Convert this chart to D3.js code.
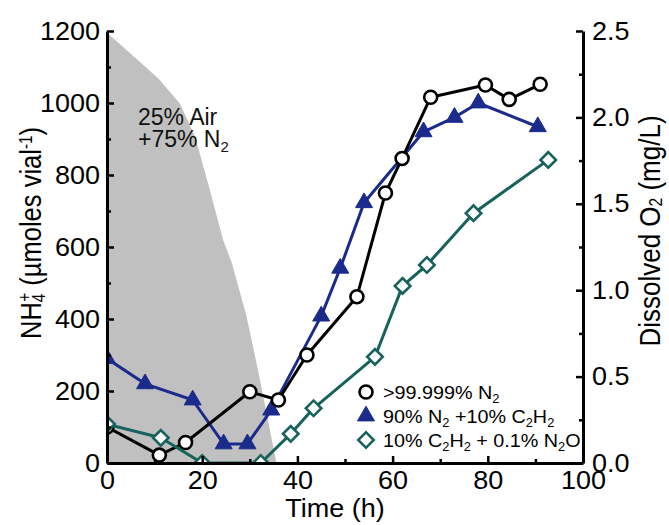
<!DOCTYPE html>
<html>
<head>
<meta charset="utf-8">
<script src="https://cdn.jsdelivr.net/npm/d3@7/dist/d3.min.js"></script>
<style>
  html, body { margin: 0; padding: 0; background: #fff; }
  svg { display: block; font-family: "Liberation Sans", Arial, sans-serif; }
</style>
</head>
<body>
<script>
// Time axis (h) and NH4+ readings for the three gas treatments
const pureN2Time   = [0, 11, 16.5, 30, 36, 42, 52.5, 58.5, 62, 68, 79.5, 84.5, 91];
const pureN2Nh4    = [100, 22, 57, 198, 175, 300, 462, 750, 846, 1016, 1050, 1010, 1052];

const acetyleneTime = [0, 8, 18, 24.5, 29.5, 34.5, 45, 49, 54, 66.5, 73, 78, 90.5];
const acetyleneNh4  = [290, 220, 175, 53, 53, 147, 408, 541, 723, 920, 960, 1000, 934];

const nitrousTime  = [0, 11.3, 20, 32.3, 38.6, 43.4, 56.3, 62.1, 67.2, 77, 92.7];
const nitrousNh4   = [108, 70, 0, 0, 81, 152, 295, 492, 550, 694, 842];

// Dissolved O2 (mg/L) in the 25% air + 75% N2 headspace
const o2Time  = [0, 6.6, 11, 15.3, 18.5, 21.6, 24.4, 26.2, 29.3, 31.7, 35.6];
const o2Value = [2.49, 2.33, 2.22, 2.08, 1.89, 1.58, 1.29, 1.16, 0.85, 0.54, 0];

// Tick values
const timeTicks      = [0, 20, 40, 60, 80, 100];
const timeMinorTicks = [10, 30, 50, 70, 90];
const nh4Ticks       = [0, 200, 400, 600, 800, 1000, 1200];
const nh4MinorTicks  = [100, 300, 500, 700, 900, 1100];
const o2Ticks        = [0, 0.5, 1.0, 1.5, 2.0, 2.5];
const o2MinorTicks   = [0.25, 0.75, 1.25, 1.75, 2.25];

const W = 669, H = 525;
const plotLeft = 107, plotRight = 583, plotTop = 31, plotBottom = 463;
const stretch = 1.08;   // slightly wide lettering

const svg = d3.select("body").append("svg").attr("width", W).attr("height", H);

const x  = d3.scaleLinear().domain([0, 100]).range([plotLeft, plotRight]);
const y  = d3.scaleLinear().domain([0, 1200]).range([plotBottom, plotTop]);
const y2 = d3.scaleLinear().domain([0, 2.5]).range([plotBottom, plotTop]);

svg.append("defs").append("clipPath").attr("id", "plotClip")
  .append("rect").attr("x", plotLeft).attr("y", plotTop)
  .attr("width", plotRight - plotLeft).attr("height", plotBottom - plotTop);

const plot = svg.append("g").attr("clip-path", "url(#plotClip)");

// Shaded oxygen profile
const o2Pts = o2Time.map((t, i) => [t, o2Value[i]]);
plot.append("path")
  .datum(o2Pts)
  .attr("fill", "#c0c0c0")
  .attr("stroke", "none")
  .attr("d", d3.area().x(d => x(d[0])).y0(y2(0)).y1(d => y2(d[1])));

// Text with sub/superscript runs
function richText(g, parts, attrs) {
  const t = g.append("text");
  Object.entries(attrs).forEach(([k, v]) => t.attr(k, v));
  parts.forEach(p => {
    const s = t.append("tspan").text(p.text);
    if (p.sub) s.attr("baseline-shift", p.shift || "-30%").attr("font-size", p.size || "65%");
    if (p.sup) s.attr("baseline-shift", p.shift || "45%").attr("font-size", p.size || "65%");
    if (p.dx) s.attr("dx", p.dx);
  });
  return t;
}

const annot = svg.append("g").attr("font-size", 23).attr("fill", "#111");
annot.append("text").attr("x", 138).attr("y", 125).text("25% Air");
richText(annot, [{text: "+75% N"}, {text: "2", sub: true}], {x: 138, y: 147});

// Series
const navy = "#1b2b8c", teal = "#17625c";
const line = d3.line().x(d => x(d[0])).y(d => y(d[1]));

function series(times, vals, color, marker) {
  const pts = times.map((t, i) => [t, vals[i]]);
  plot.append("path").datum(pts)
    .attr("fill", "none").attr("stroke", color)
    .attr("stroke-width", 3).attr("stroke-linejoin", "round")
    .attr("d", line);
  const g = plot.append("g");
  pts.forEach(p => marker(g, x(p[0]), y(p[1])));
}

function circleMark(g, cx, cy) {
  g.append("circle").attr("cx", cx).attr("cy", cy).attr("r", 6.5)
    .attr("fill", "#fff").attr("stroke", "#000").attr("stroke-width", 2.6);
}
function triMark(g, cx, cy) {
  g.append("path").attr("transform", `translate(${cx},${cy})`)
    .attr("d", d3.symbol(d3.symbolTriangle, 125)())
    .attr("fill", navy).attr("stroke", navy).attr("stroke-width", 1);
}
function diaMark(g, cx, cy) {
  g.append("path").attr("transform", `translate(${cx},${cy}) rotate(45)`)
    .attr("d", d3.symbol(d3.symbolSquare, 120)())
    .attr("fill", "#fff").attr("stroke", teal).attr("stroke-width", 2.6);
}

series(acetyleneTime, acetyleneNh4, navy, triMark);
series(pureN2Time, pureN2Nh4, "#000", circleMark);
series(nitrousTime, nitrousNh4, teal, diaMark);

// Axes
const tickFont = 25;
function styleAxis(g) {
  g.select(".domain").attr("stroke", "#000").attr("stroke-width", 3);
  g.selectAll(".tick line").attr("stroke", "#000").attr("stroke-width", 2.5);
  g.selectAll(".tick text").attr("font-size", tickFont).attr("fill", "#000")
    .attr("font-family", "Liberation Sans, Arial, sans-serif")
    .each(function () {
      const t = d3.select(this);
      const tx = +t.attr("x") || 0;
      t.attr("x", 0).attr("transform", `translate(${tx},0) scale(${stretch},1)`);
    });
}
function styleMinor(g) {
  g.select(".domain").remove();
  g.selectAll(".tick line").attr("stroke", "#000").attr("stroke-width", 2.5);
}

const gx = svg.append("g").attr("transform", `translate(0,${plotBottom})`)
  .call(d3.axisBottom(x).tickValues(timeTicks).tickSize(-7).tickSizeOuter(0).tickPadding(8).tickFormat(d3.format("d")));
styleAxis(gx);
styleMinor(svg.append("g").attr("transform", `translate(0,${plotBottom})`)
  .call(d3.axisBottom(x).tickValues(timeMinorTicks).tickSize(-4).tickFormat("")));

const gy = svg.append("g").attr("transform", `translate(${plotLeft},0)`)
  .call(d3.axisLeft(y).tickValues(nh4Ticks).tickSize(-7).tickSizeOuter(0).tickPadding(7).tickFormat(d3.format("d")));
styleAxis(gy);
styleMinor(svg.append("g").attr("transform", `translate(${plotLeft},0)`)
  .call(d3.axisLeft(y).tickValues(nh4MinorTicks).tickSize(-4).tickFormat("")));

const gy2 = svg.append("g").attr("transform", `translate(${plotRight},0)`)
  .call(d3.axisRight(y2).tickValues(o2Ticks).tickSize(-7).tickSizeOuter(0).tickPadding(9).tickFormat(d3.format(".1f")));
styleAxis(gy2);
styleMinor(svg.append("g").attr("transform", `translate(${plotRight},0)`)
  .call(d3.axisRight(y2).tickValues(o2MinorTicks).tickSize(-4).tickFormat("")));

// Axis titles
svg.append("text")
  .attr("transform", `translate(${(plotLeft + plotRight) / 2 - 10},517) scale(${stretch},1)`)
  .attr("text-anchor", "middle").attr("font-size", 25).text("Time (h)");

richText(svg, [
  {text: "NH"},
  {text: "4", sub: true, shift: "-25%", size: "60%"},
  {text: "+", sup: true, shift: "55%", size: "60%", dx: -8},
  {text: " (µmoles vial"},
  {text: "-1", sup: true, shift: "45%", size: "60%"},
  {text: ")"}
], {"text-anchor": "middle", "font-size": 25.5,
    transform: "translate(41,233) rotate(-90) scale(1,1.16)"});

richText(svg, [
  {text: "Dissolved O"},
  {text: "2", sub: true, shift: "-10%", size: "60%"},
  {text: " (mg/L)"}
], {"text-anchor": "middle", "font-size": 26,
    transform: "translate(660,231) rotate(-90) scale(1,1.12)"});

// Legend
const legend = svg.append("g").attr("font-size", 19);
const legendRows = [
  {mark: circleMark, parts: [{text: ">99.999% N"}, {text: "2", sub: true}]},
  {mark: triMark, parts: [{text: "90% N"}, {text: "2", sub: true}, {text: " +10% C"}, {text: "2", sub: true}, {text: "H"}, {text: "2", sub: true}]},
  {mark: diaMark, parts: [{text: "10% C"}, {text: "2", sub: true}, {text: "H"}, {text: "2", sub: true}, {text: " + 0.1% N"}, {text: "2", sub: true}, {text: "O"}]}
];
legendRows.forEach((r, i) => {
  const cy = 392 + i * 24;
  r.mark(legend, 366, cy);
  richText(legend, r.parts, {transform: `translate(383,${cy + 7}) scale(1.04,1)`});
});
</script>
</body>
</html>
